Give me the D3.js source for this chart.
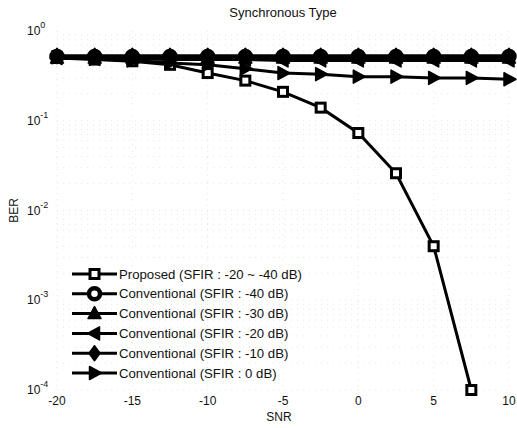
<!DOCTYPE html>
<html>
<head>
<meta charset="utf-8">
<script src="https://cdn.jsdelivr.net/npm/d3@7"></script>
<style>
  body { margin: 0; background: #fff; }
  text { font-family: "Liberation Sans", Arial, sans-serif; fill: #111; }
</style>
</head>
<body>
<svg id="chart" width="517" height="428"></svg>
<script>
// SNR points (dB)
const snr = [-20, -17.5, -15, -12.5, -10, -7.5, -5, -2.5, 0, 2.5, 5, 7.5, 10]
const snrProposed = snr.slice(0, 12)

// BER values
const proposed = [0.50, 0.48, 0.46, 0.42, 0.34, 0.28, 0.21, 0.14, 0.073, 0.026, 0.0040, 0.0001]
const conv40 = [0.52, 0.52, 0.52, 0.52, 0.52, 0.52, 0.52, 0.52, 0.52, 0.52, 0.52, 0.52, 0.52]
const conv30 = [0.50, 0.50, 0.50, 0.50, 0.50, 0.50, 0.50, 0.50, 0.50, 0.50, 0.50, 0.50, 0.50]
const conv20 = [0.50, 0.49, 0.49, 0.48, 0.48, 0.48, 0.47, 0.47, 0.47, 0.47, 0.47, 0.47, 0.47]
const conv10 = [0.53, 0.53, 0.53, 0.53, 0.53, 0.53, 0.53, 0.53, 0.53, 0.53, 0.53, 0.53, 0.53]
const conv0 = [0.51, 0.49, 0.47, 0.44, 0.42, 0.38, 0.34, 0.33, 0.31, 0.31, 0.30, 0.30, 0.29]

const xTicks = [-20, -15, -10, -5, 0, 5, 10]
const yTickExp = [0, -1, -2, -3, -4]

const labels = [
  'Proposed (SFIR : -20 ~ -40 dB)',
  'Conventional (SFIR : -40 dB)',
  'Conventional (SFIR : -30 dB)',
  'Conventional (SFIR : -20 dB)',
  'Conventional (SFIR : -10 dB)',
  'Conventional (SFIR : 0 dB)'
]
const markers = ['square', 'circle', 'up', 'left', 'diamond', 'right']

const series = [
  { xs: snrProposed, ys: proposed },
  { xs: snr, ys: conv40 },
  { xs: snr, ys: conv30 },
  { xs: snr, ys: conv20 },
  { xs: snr, ys: conv10 },
  { xs: snr, ys: conv0 }
]

const svg = d3.select('#chart')
const mLeft = 57, mRight = 509, mTop = 31, mBottom = 390

const x = d3.scaleLinear().domain([-20, 10]).range([mLeft, mRight])
const y = d3.scaleLog().domain([1e-4, 1]).range([mBottom, mTop])

// faint dotted grid (barely visible in the scan)
const grid = svg.append('g').attr('stroke', '#e0e0e0').attr('stroke-width', 0.8).attr('stroke-dasharray', '1,5')
xTicks.forEach(t => {
  grid.append('line').attr('x1', x(t)).attr('x2', x(t)).attr('y1', mTop).attr('y2', mBottom)
})
for (let e = -4; e < 0; e++) {
  for (let m = 1; m < 10; m++) {
    const v = m * Math.pow(10, e)
    grid.append('line').attr('x1', mLeft).attr('x2', mRight).attr('y1', y(v)).attr('y2', y(v))
  }
}

// tick labels
svg.append('g').selectAll('text')
  .data(xTicks)
  .enter()
  .append('text')
  .attr('x', d => x(d))
  .attr('y', mBottom + 15)
  .attr('text-anchor', 'middle')
  .attr('font-size', 12)
  .text(d => d)

const yl = svg.append('g').selectAll('text')
  .data(yTickExp)
  .enter()
  .append('text')
  .attr('x', mLeft - 30)
  .attr('y', d => y(Math.pow(10, d)) + 4)
  .attr('font-size', 12)
yl.append('tspan').text('10')
yl.append('tspan').attr('dy', -7).attr('font-size', 9).text(d => d)

// titles
svg.append('text').attr('x', (mLeft + mRight) / 2).attr('y', 17).attr('text-anchor', 'middle')
  .attr('font-size', 13).text('Synchronous Type')
svg.append('text').attr('x', (mLeft + mRight) / 2 - 4).attr('y', 421).attr('text-anchor', 'middle')
  .attr('font-size', 12).text('SNR')
svg.append('text').attr('transform', `translate(18, ${(mTop + mBottom) / 2})rotate(-90)`)
  .attr('text-anchor', 'middle').attr('font-size', 12).text('BER')

// marker drawing
const drawMarker = (g, type, cx, cy) => {
  if (type === 'square') {
    g.append('rect').attr('x', cx - 4.5).attr('y', cy - 4.5).attr('width', 9).attr('height', 9)
      .attr('fill', '#fff').attr('stroke', '#000').attr('stroke-width', 3)
  } else if (type === 'circle') {
    g.append('circle').attr('cx', cx).attr('cy', cy).attr('r', 5.5)
      .attr('fill', '#fff').attr('stroke', '#000').attr('stroke-width', 4.5)
  } else {
    let pts
    if (type === 'up') pts = [[0, -7], [6.5, 5], [-6.5, 5]]
    if (type === 'left') pts = [[-7, 0], [5, -6.5], [5, 6.5]]
    if (type === 'right') pts = [[7, 0], [-5, -6.5], [-5, 6.5]]
    if (type === 'diamond') pts = [[0, -7.5], [5.5, 0], [0, 7.5], [-5.5, 0]]
    g.append('path')
      .attr('d', 'M' + pts.map(p => `${cx + p[0]},${cy + p[1]}`).join('L') + 'Z')
      .attr('fill', '#000').attr('stroke', '#000').attr('stroke-width', 1.5).attr('stroke-linejoin', 'round')
  }
}

const line = d3.line().x(d => x(d[0])).y(d => y(d[1]))

const plot = svg.append('g')
series.forEach((s, i) => {
  const pts = s.xs.map((v, j) => [v, s.ys[j]])
  plot.append('path').attr('d', line(pts)).attr('fill', 'none')
    .attr('stroke', '#000').attr('stroke-width', 3)
})
series.forEach((s, i) => {
  s.xs.forEach((v, j) => drawMarker(plot, markers[i], x(v), y(s.ys[j])))
})

// legend
const lg = svg.append('g')
labels.forEach((lab, i) => {
  const ly = 274 + i * 19.8
  lg.append('line').attr('x1', 72).attr('x2', 117).attr('y1', ly).attr('y2', ly)
    .attr('stroke', '#000').attr('stroke-width', 3)
  drawMarker(lg, markers[i], 94.5, ly)
  lg.append('text').attr('x', 119).attr('y', ly + 4.5).attr('font-size', 13.2).text(lab)
})
</script>
</body>
</html>
